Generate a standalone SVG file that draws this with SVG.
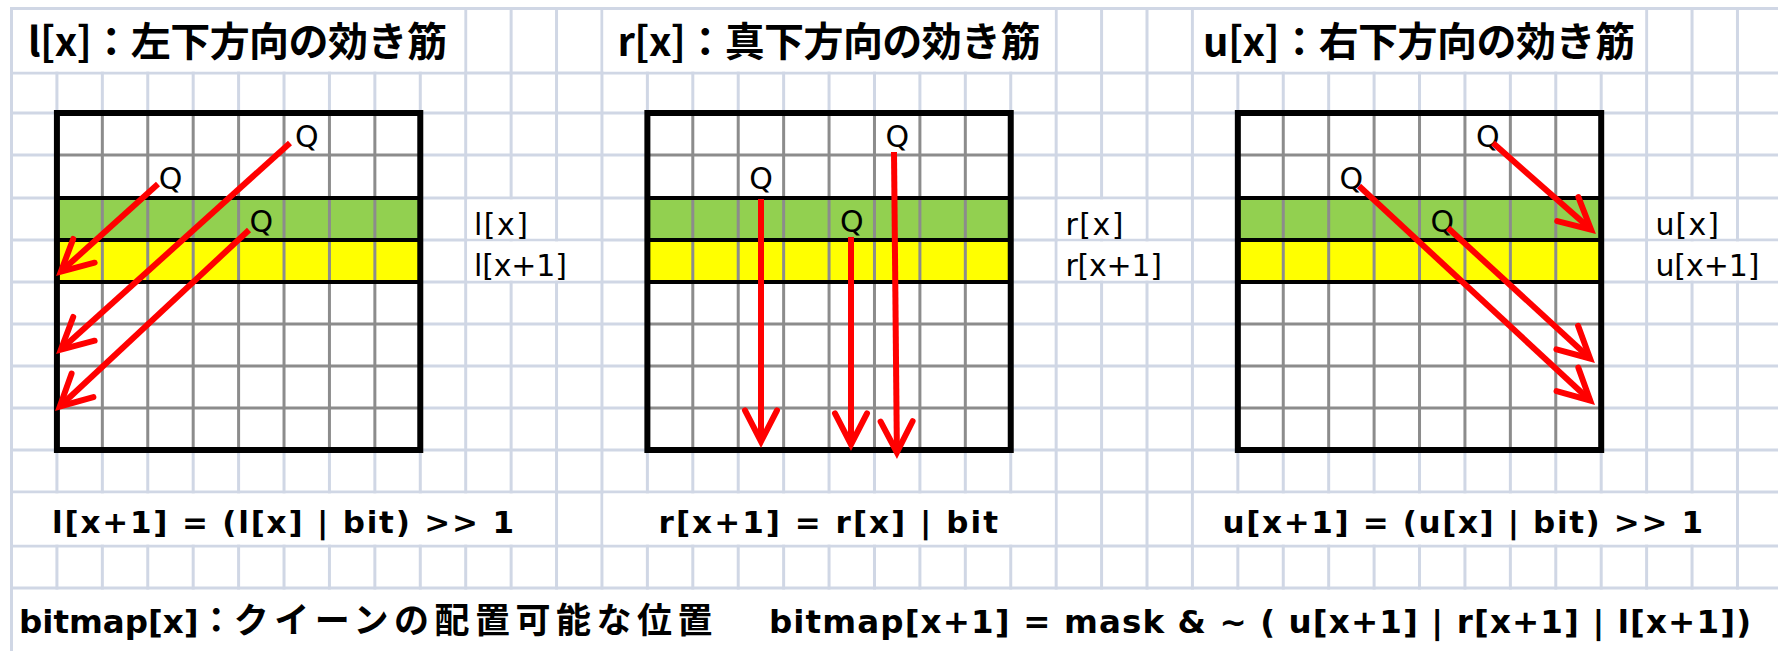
<svg xmlns="http://www.w3.org/2000/svg" width="1778" height="651" viewBox="0 0 1778 651">
<style>
.gl{fill:none;stroke:#D0D7E5;stroke-width:3}
.cell{fill:#FFFFFF}
.bg{fill:none;stroke:#8C8C8C;stroke-width:3}
.bk{fill:none;stroke:#000000;stroke-width:4}
.t{font-family:"Noto Sans CJK JP","Noto Sans CJK SC",sans-serif;font-weight:700;font-size:40px;fill:#000}
.q{font-family:"DejaVu Sans",sans-serif;font-size:30px;fill:#000}
.lb{font-family:"DejaVu Sans",sans-serif;font-size:30px;fill:#000}
.f{font-family:"DejaVu Sans",sans-serif;font-weight:700;font-size:31px;fill:#000}
.b{font-family:"DejaVu Sans","Noto Sans CJK JP",sans-serif;font-weight:700;font-size:32.5px;fill:#000}
.bj{font-family:"Noto Sans CJK JP",sans-serif;font-weight:700;font-size:35px}
.arr{fill:none;stroke:#FF0000;stroke-width:6;stroke-linecap:butt;marker-end:url(#ah)}
</style>
<defs>
<marker id="ah" markerUnits="userSpaceOnUse" orient="auto" markerWidth="40" markerHeight="40" refX="0" refY="0" overflow="visible">
<path d="M-31,-16L0,0L-31,16" fill="none" stroke="#FF0000" stroke-width="6" stroke-linejoin="miter" stroke-linecap="round"/>
</marker>
<g id="boardTpl">
<rect x="0" y="0" width="363.36" height="337" fill="#FFFFFF"/>
<rect x="0" y="85" width="363.36" height="42" fill="#92D050"/>
<rect x="0" y="127" width="363.36" height="42" fill="#FFFF00"/>
<path class="bg" d="M45.42 0V337M90.84 0V337M136.26 0V337M181.68 0V337M227.1 0V337M272.52 0V337M317.94 0V337M0 42H363.36M0 211H363.36M0 253H363.36M0 295H363.36"/>
<path class="bk" d="M0 85H363.36M0 127H363.36M0 169H363.36"/>
<rect x="0" y="0" width="363.36" height="337" fill="none" stroke="#000000" stroke-width="6"/>
</g>
</defs>
<rect x="0" y="0" width="1778" height="651" fill="#FFFFFF"/>
<g id="grid">
<path class="gl" d="M56.92 7V589.5M102.34 7V589.5M147.76 7V589.5M193.18 7V589.5M238.6 7V589.5M284.02 7V589.5M329.44 7V589.5M374.86 7V589.5M420.28 7V589.5M465.7 7V589.5M511.12 7V589.5M556.54 7V589.5M601.96 7V589.5M647.38 7V589.5M692.8 7V589.5M738.22 7V589.5M783.64 7V589.5M829.06 7V589.5M874.48 7V589.5M919.9 7V589.5M965.32 7V589.5M1010.74 7V589.5M1056.16 7V589.5M1101.58 7V589.5M1147 7V589.5M1192.42 7V589.5M1237.84 7V589.5M1283.26 7V589.5M1328.68 7V589.5M1374.1 7V589.5M1419.52 7V589.5M1464.94 7V589.5M1510.36 7V589.5M1555.78 7V589.5M1601.2 7V589.5M1646.62 7V589.5M1692.04 7V589.5M1737.46 7V589.5"/>
<path class="gl" d="M11.5 7V651M10 8.5H1778M10 73H1778M10 113H1778M10 155H1778M10 198H1778M10 240H1778M10 282H1778M10 324H1778M10 366H1778M10 408H1778M10 450H1778M10 492H1778M10 546H1778M10 588H1778"/>
</g>
<g id="title-l">
<rect class="cell" x="13" y="10" width="451.2" height="61.5"/>
<text class="t" x="28" y="56" textLength="419" lengthAdjust="spacing">l[x]：左下方向の効き筋</text>
</g>
<g id="title-r">
<rect class="cell" x="603.46" y="10" width="451.2" height="61.5"/>
<text class="t" x="617.5" y="56" textLength="423" lengthAdjust="spacing">r[x]：真下方向の効き筋</text>
</g>
<g id="title-u">
<rect class="cell" x="1193.92" y="10" width="451.2" height="61.5"/>
<text class="t" x="1203" y="56" textLength="432" lengthAdjust="spacing">u[x]：右下方向の効き筋</text>
</g>
<g id="board-l">
<use href="#boardTpl" x="56.92" y="113"/>
<text class="q" x="295" y="147">Q</text>
<text class="q" x="158.7" y="189">Q</text>
<text class="q" x="249.6" y="232">Q</text>
</g>
<g id="board-r">
<use href="#boardTpl" x="647.38" y="113"/>
<text class="q" x="885.5" y="147">Q</text>
<text class="q" x="749.2" y="189">Q</text>
<text class="q" x="840.1" y="232">Q</text>
</g>
<g id="board-u">
<use href="#boardTpl" x="1237.84" y="113"/>
<text class="q" x="1475.9" y="147">Q</text>
<text class="q" x="1339.6" y="189">Q</text>
<text class="q" x="1430.5" y="232">Q</text>
</g>
<g id="label-l">
<rect class="cell" x="467.2" y="199.5" width="87.84" height="39"/>
<rect class="cell" x="467.2" y="241.5" width="133.26" height="39"/>
<text class="lb" x="474" y="235" textLength="54" lengthAdjust="spacing">l[x]</text>
<text class="lb" x="474" y="276" textLength="93" lengthAdjust="spacing">l[x+1]</text>
</g>
<g id="label-r">
<rect class="cell" x="1057.66" y="199.5" width="87.84" height="39"/>
<rect class="cell" x="1057.66" y="241.5" width="133.26" height="39"/>
<text class="lb" x="1065.5" y="235" textLength="58" lengthAdjust="spacing">r[x]</text>
<text class="lb" x="1065.5" y="276" textLength="96.5" lengthAdjust="spacing">r[x+1]</text>
</g>
<g id="label-u">
<rect class="cell" x="1648.12" y="199.5" width="87.84" height="39"/>
<rect class="cell" x="1648.12" y="241.5" width="129.88" height="39"/>
<text class="lb" x="1655.4" y="235" textLength="63.6" lengthAdjust="spacing">u[x]</text>
<text class="lb" x="1655.4" y="276" textLength="104" lengthAdjust="spacing">u[x+1]</text>
</g>
<g id="formula-l">
<rect class="cell" x="13" y="493.5" width="542.04" height="51"/>
<text class="f" x="52" y="533" textLength="462" lengthAdjust="spacing">l[x+1] = (l[x] | bit) &gt;&gt; 1</text>
</g>
<g id="formula-r">
<rect class="cell" x="603.46" y="493.5" width="451.2" height="51"/>
<text class="f" x="658.6" y="533" textLength="339.4" lengthAdjust="spacing">r[x+1] = r[x] | bit</text>
</g>
<g id="formula-u">
<rect class="cell" x="1193.92" y="493.5" width="542.04" height="51"/>
<text class="f" x="1222.6" y="533" textLength="480.4" lengthAdjust="spacing">u[x+1] = (u[x] | bit) &gt;&gt; 1</text>
</g>
<g id="bottom">
<text class="b" x="19" y="633">bitmap[x]<tspan class="bj" font-size="31">：</tspan><tspan class="bj" letter-spacing="5.5">クイーンの配置可能な位置</tspan></text>
<text class="b" x="769" y="633" textLength="982" lengthAdjust="spacing">bitmap[x+1] = mask &amp; ~ ( u[x+1] | r[x+1] | l[x+1])</text>
</g>
<g id="arrows">
<path class="arr" d="M158 184L60.9 271.6"/>
<path class="arr" d="M290 143L60.9 349.6"/>
<path class="arr" d="M249 230L59.8 406.5"/>
<path class="arr" d="M761 199L761 441.4"/>
<path class="arr" d="M851 237L851 444.4"/>
<path class="arr" d="M894 152L896.9 452.4"/>
<path class="arr" d="M1493 143L1591.05 229.6"/>
<path class="arr" d="M1359 186L1590.2 400.5"/>
<path class="arr" d="M1448 228L1590.1 358.5"/>
</g>
</svg>
